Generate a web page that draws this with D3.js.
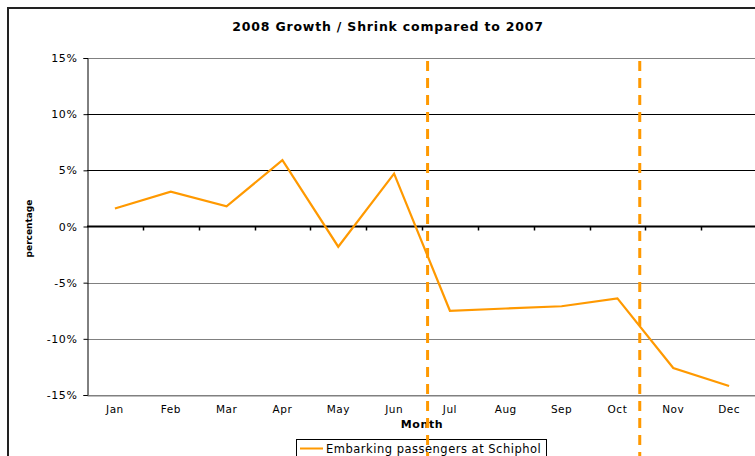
<!DOCTYPE html>
<html>
<head>
<meta charset="utf-8">
<title>2008 Growth / Shrink compared to 2007</title>
<script src="https://d3js.org/d3.v7.min.js"></script>
<style>
  body { margin: 0; background: #fff; }
  svg text { font-family: Verdana, "DejaVu Sans", sans-serif; }
</style>
</head>
<body>
<div class="chart"></div>
<script>
  // data
  const months = ['Jan', 'Feb', 'Mar', 'Apr', 'May', 'Jun', 'Jul', 'Aug', 'Sep', 'Oct', 'Nov', 'Dec'];
  const growth = [1.6, 3.1, 1.8, 5.9, -1.8, 4.7, -7.5, -7.3, -7.1, -6.4, -12.6, -14.2];
  const yTicks = [15, 10, 5, 0, -5, -10, -15];
  // dashed markers, position in months from the left edge
  const markers = [6.1, 9.9];
  const seriesName = 'Embarking passengers at Schiphol';

  const W = 755, H = 456;
  const plotLeft = 87, plotRight = 757, plotTop = 58, plotBottom = 395;
  const orange = '#ff9900';

  const svg = d3.select('.chart')
    .append('svg')
    .attr('width', W)
    .attr('height', H);

  // chart border (cut off on right and bottom)
  svg.append('path')
    .attr('d', 'M8,' + H + ' V8 H' + W)
    .attr('fill', 'none')
    .attr('stroke', '#222')
    .attr('stroke-width', 2);

  svg.append('text')
    .attr('x', 388)
    .attr('y', 31)
    .attr('text-anchor', 'middle')
    .attr('font-size', '12.5px')
    .attr('letter-spacing', '0.8px')
    .attr('font-weight', 'bold')
    .text('2008 Growth / Shrink compared to 2007');

  const x = d3.scaleBand().domain(months).range([plotLeft, plotRight]);
  const xi = d3.scaleLinear().domain([0, months.length]).range([plotLeft, plotRight]);
  const y = d3.scaleLinear().domain([-15, 15]).range([plotBottom, plotTop]);

  // gridlines
  svg.selectAll('.grid')
    .data(yTicks.filter(d => d !== 0))
    .enter()
    .append('line')
    .attr('x1', plotLeft)
    .attr('x2', plotRight)
    .attr('y1', d => Math.round(y(d)) + 0.5)
    .attr('y2', d => Math.round(y(d)) + 0.5)
    .attr('stroke', d => (d === 10 || d === 5) ? '#000' : '#808080')
    .attr('stroke-width', 1);

  // y axis
  const yAxis = svg.append('g')
    .attr('transform', 'translate(' + (plotLeft + 0.5) + ',0)')
    .call(d3.axisLeft(y).tickValues(yTicks).tickSize(4).tickPadding(6).tickFormat(d => d + '%'));
  yAxis.select('.domain').attr('stroke', '#000');
  yAxis.selectAll('text').attr('font-size', '11px').attr('letter-spacing', '0.6px').attr('fill', '#000');

  // x axis labels at the bottom
  const xAxis = svg.append('g')
    .attr('transform', 'translate(0,' + (plotBottom + 0.5) + ')')
    .call(d3.axisBottom(x).tickSize(0).tickPadding(10));
  xAxis.select('.domain').attr('stroke', '#808080');
  xAxis.selectAll('text').attr('font-size', '10.5px').attr('letter-spacing', '0.5px').attr('fill', '#000');

  // zero line with tick marks
  svg.append('line')
    .attr('x1', plotLeft)
    .attr('x2', plotRight)
    .attr('y1', y(0))
    .attr('y2', y(0))
    .attr('stroke', '#000')
    .attr('stroke-width', 2);
  svg.selectAll('.ztick')
    .data(d3.range(1, months.length))
    .enter()
    .append('line')
    .attr('x1', d => Math.round(xi(d)) + 0.5)
    .attr('x2', d => Math.round(xi(d)) + 0.5)
    .attr('y1', y(0))
    .attr('y2', y(0) + 4)
    .attr('stroke', '#000')
    .attr('stroke-width', 1.5);

  svg.append('text')
    .attr('x', 422)
    .attr('y', 428)
    .attr('text-anchor', 'middle')
    .attr('font-size', '11px')
    .attr('letter-spacing', '0.6px')
    .attr('font-weight', 'bold')
    .text('Month');

  svg.append('text')
    .attr('transform', 'translate(32,' + (y(0) + 2) + ') rotate(-90)')
    .attr('text-anchor', 'middle')
    .attr('font-size', '9px')
    .attr('font-weight', 'bold')
    .text('percentage');

  // series
  const line = d3.line()
    .x((d, i) => x(months[i]) + x.bandwidth() / 2)
    .y(d => y(d));
  svg.append('path')
    .datum(growth)
    .attr('d', line)
    .attr('fill', 'none')
    .attr('stroke', orange)
    .attr('stroke-width', 2.2);

  // legend
  const lg = svg.append('g').attr('transform', 'translate(296,439)');
  lg.append('rect')
    .attr('x', 0.5)
    .attr('y', 0.5)
    .attr('width', 250)
    .attr('height', 22)
    .attr('fill', '#fff')
    .attr('stroke', '#000');
  lg.append('line')
    .attr('x1', 4)
    .attr('x2', 27)
    .attr('y1', 9.5)
    .attr('y2', 9.5)
    .attr('stroke', orange)
    .attr('stroke-width', 2);
  lg.append('text')
    .attr('x', 30)
    .attr('y', 13.5)
    .attr('font-size', '11.5px')
    .attr('letter-spacing', '0.5px')
    .text(seriesName);

  // dashed markers, drawn over everything
  svg.selectAll('.marker')
    .data(markers)
    .enter()
    .append('line')
    .attr('x1', d => xi(d))
    .attr('x2', d => xi(d))
    .attr('y1', plotTop + 3)
    .attr('y2', H)
    .attr('stroke', orange)
    .attr('stroke-width', 3)
    .attr('stroke-dasharray', '10,7');
</script>
</body>
</html>
